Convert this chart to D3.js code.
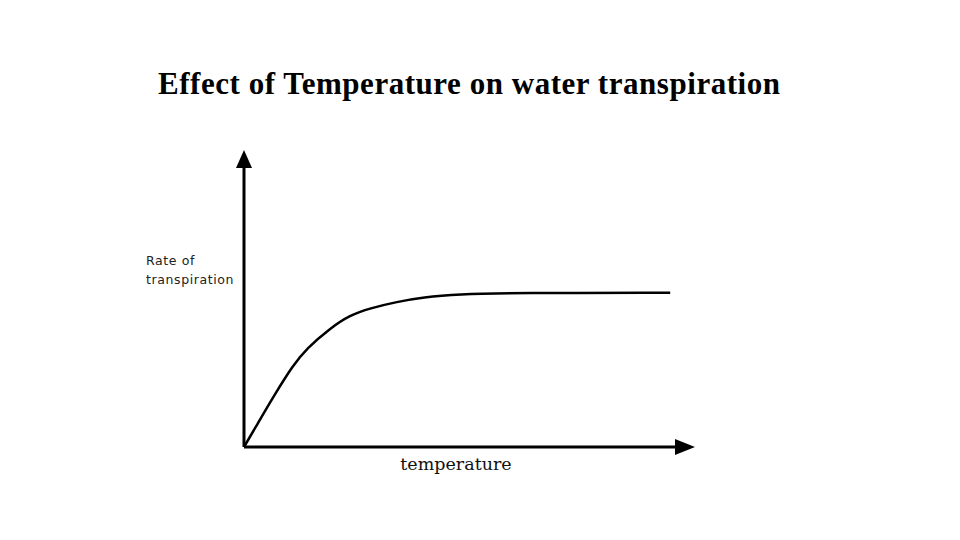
<!DOCTYPE html>
<html>
<head>
<meta charset="utf-8">
<script src="https://cdn.jsdelivr.net/npm/d3@7"></script>
<style>
  body { margin: 0; background: #fff; }
  svg { display: block; }
</style>
</head>
<body>
<div id="chart"></div>
<script>
// values (arbitrary units, 0-100 on both axes)
const temperature = [0, 3.5, 6.5, 10.9, 13.9, 19.1, 23.5, 27.9, 33.9, 39.8, 47.2, 60.5, 94.5];
const rate = [0, 9.1, 16.9, 27.6, 33.2, 40.0, 44.4, 46.7, 48.9, 50.4, 51.4, 51.9, 51.9];
const title = 'Effect of Temperature on water transpiration';
const yLabel = ['Rate of', 'transpiration'];
const xLabel = 'temperature';

const width = 960, height = 540;
const svg = d3.select('#chart').append('svg')
  .attr('width', width)
  .attr('height', height);

const x = d3.scaleLinear().domain([0, 100]).range([244, 695]);
const y = d3.scaleLinear().domain([0, 100]).range([447, 150]);

svg.append('text')
  .attr('x', 469).attr('y', 94)
  .attr('text-anchor', 'middle')
  .style('font-family', '"Liberation Serif", "Times New Roman", serif')
  .style('font-weight', 'bold')
  .style('font-size', '31px')
  .attr('textLength', 622)
  .attr('lengthAdjust', 'spacing')
  .text(title);

// axes with arrowheads
const axes = svg.append('g');
axes.append('line')
  .attr('x1', x(0)).attr('y1', y(0))
  .attr('x2', x(0)).attr('y2', y(100) + 14)
  .attr('stroke', '#000').attr('stroke-width', 3);
axes.append('path')
  .attr('d', `M${x(0)},${y(100)} L${x(0) - 8},${y(100) + 18} L${x(0) + 8},${y(100) + 18} Z`)
  .attr('fill', '#000');
axes.append('line')
  .attr('x1', x(0)).attr('y1', y(0))
  .attr('x2', x(100) - 14).attr('y2', y(0))
  .attr('stroke', '#000').attr('stroke-width', 3);
axes.append('path')
  .attr('d', `M${x(100)},${y(0)} L${x(100) - 20},${y(0) - 8} L${x(100) - 20},${y(0) + 8} Z`)
  .attr('fill', '#000');

// curve (basis smooths out reading noise)
const line = d3.line()
  .x((d, i) => x(temperature[i]))
  .y(d => y(d))
  .curve(d3.curveBasis);
svg.append('path')
  .datum(rate)
  .attr('d', line)
  .attr('fill', 'none')
  .attr('stroke', '#000')
  .attr('stroke-width', 2.5);

// labels
svg.append('g').selectAll('text').data(yLabel).enter()
  .append('text')
    .attr('x', 146)
    .attr('y', (d, i) => 265 + i * 19)
    .style('font-family', '"DejaVu Sans", Verdana, sans-serif')
    .style('font-size', '12.5px')
    .style('letter-spacing', '0.6px')
    .style('fill', '#222')
    .text(d => d);

svg.append('text')
  .attr('x', 456).attr('y', 470)
  .attr('text-anchor', 'middle')
  .style('font-family', '"DejaVu Serif", Georgia, serif')
  .style('font-size', '17.5px')
  .style('fill', '#111')
  .text(xLabel);
</script>
</body>
</html>
